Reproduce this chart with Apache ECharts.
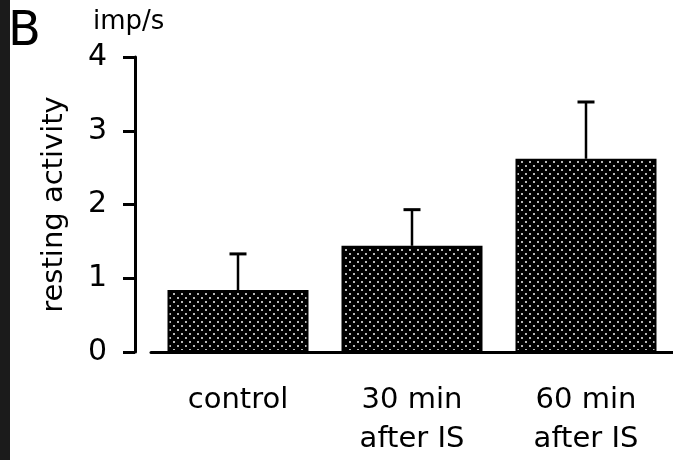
<!DOCTYPE html>
<html>
<head>
<meta charset="utf-8">
<script src="https://cdn.jsdelivr.net/npm/echarts@6/dist/echarts.min.js"></script>
<style>
html,body{margin:0;padding:0;background:#fff;}
#c{width:673px;height:460px;}
</style>
</head>
<body>
<div id="c"></div>
<script>
const categories = ['control', '30 min\nafter IS', '60 min\nafter IS'];
const means = [0.84, 1.44, 2.62];
const errTops = [1.33, 1.93, 3.39];
const yTicks = [0, 1, 2, 3, 4];

const FONT = '"DejaVu Sans", "Liberation Sans", sans-serif';

// dotted fill pattern
const pc = document.createElement('canvas');
pc.width = 8; pc.height = 8;
const g = pc.getContext('2d');
g.fillStyle = '#000'; g.fillRect(0, 0, 8, 8);
g.fillStyle = '#b8b8b8';
g.fillRect(1, 1, 2, 2);
g.fillRect(5, 5, 2, 2);

const chart = echarts.init(document.getElementById('c'), null, {renderer: 'canvas'});
chart.setOption({
  backgroundColor: '#fff',
  animation: false,
  grid: {left: 151, right: 0, top: 57, bottom: 108},
  graphic: [
    {type: 'rect', left: 0, top: 0, shape: {width: 10, height: 460}, style: {fill: '#1b1b1b'}},
    {type: 'text', left: 8, top: 9, style: {text: 'B', font: '48px ' + FONT, fill: '#000'}},
    {type: 'text', left: 93, top: 9, style: {text: 'imp/s', font: '26px ' + FONT, fill: '#000'}}
  ],
  xAxis: {
    type: 'category',
    data: categories,
    axisLine: {lineStyle: {color: '#000', width: 3}},
    axisTick: {alignWithLabel: true, length: 11, lineStyle: {color: '#000', width: 3}},
    axisLabel: {color: '#000', fontFamily: FONT, fontSize: 29, lineHeight: 39, margin: 29, interval: 0}
  },
  yAxis: {
    type: 'value',
    min: 0, max: 4, interval: 1,
    offset: 16,
    name: 'resting activity',
    nameLocation: 'middle',
    nameGap: 66,
    nameTextStyle: {color: '#000', fontFamily: FONT, fontSize: 29},
    splitLine: {show: false},
    axisLine: {show: true, lineStyle: {color: '#000', width: 3}},
    axisTick: {show: true, length: 12, lineStyle: {color: '#000', width: 3}},
    axisLabel: {color: '#000', fontFamily: FONT, fontSize: 30, margin: 28,
      formatter: v => yTicks.includes(v) ? String(v) : ''}
  },
  series: [
    {
      type: 'bar',
      data: means,
      barWidth: 141,
      itemStyle: {color: {image: pc, repeat: 'repeat'}, borderColor: '#000', borderWidth: 2},
      z: 2
    },
    {
      type: 'custom',
      data: means.map((m, i) => [i, m, errTops[i]]),
      renderItem: function (params, api) {
        const x = api.value(0);
        const p0 = api.coord([x, api.value(1)]);
        const p1 = api.coord([x, api.value(2)]);
        const hw = 8.5;
        return {
          type: 'group',
          children: [
            {type: 'line', shape: {x1: p0[0], y1: p0[1], x2: p1[0], y2: p1[1]}, style: {stroke: '#000', lineWidth: 2.5}},
            {type: 'line', shape: {x1: p1[0] - hw, y1: p1[1], x2: p1[0] + hw, y2: p1[1]}, style: {stroke: '#000', lineWidth: 3}}
          ]
        };
      },
      z: 3
    }
  ]
});
</script>
</body>
</html>
